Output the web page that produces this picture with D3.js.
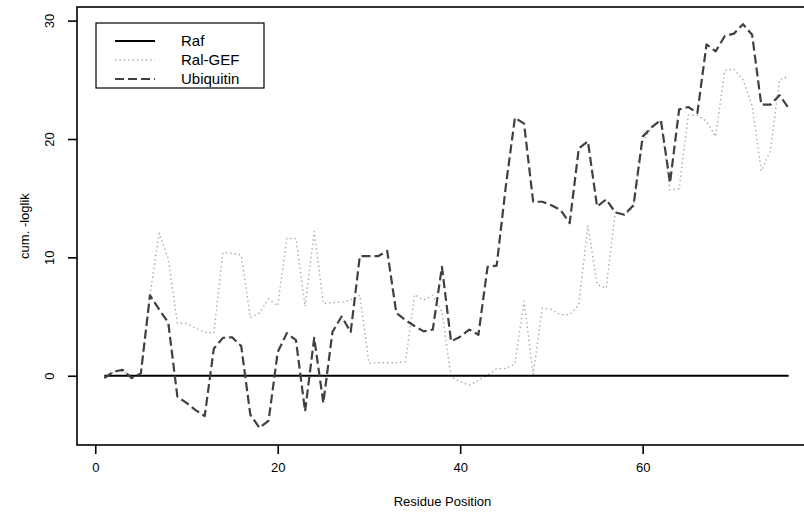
<!DOCTYPE html>
<html>
<head>
<meta charset="utf-8">
<script src="https://cdn.jsdelivr.net/npm/d3@7"></script>
<style>
  body { margin: 0; background: #fff; }
  svg { display: block; font-family: "Liberation Sans", Arial, sans-serif; }
</style>
</head>
<body>
<svg id="chart" width="804" height="514"></svg>
<script>
// ---- data ----
const positions = d3.range(1, 77);
const seriesNames = ["Raf", "Ral-GEF", "Ubiquitin"];
const raf = positions.map(() => 0);
const ralGEF = [
  -0.1, 0.3, 0.4, -0.1, 0.2, 6.8, 12.05, 9.9, 4.45, 4.4,
  4.0, 3.7, 3.6, 10.4, 10.35, 10.2, 4.9, 5.3, 6.5, 5.9,
  11.6, 11.6, 5.85, 12.2, 6.1, 6.2, 6.2, 6.4, 6.8, 1.07,
  1.1, 1.1, 1.1, 1.2, 6.85, 6.4, 6.8, 5.4, -0.1, -0.5,
  -0.8, -0.4, 0.05, 0.6, 0.6, 1.0, 6.3, 0.1, 5.7, 5.6,
  5.15, 5.15, 6.0, 12.7, 7.7, 7.4, 13.8, 13.6, 14.2, 19.8,
  21.0, 21.5, 15.7, 15.8, 22.0, 22.0, 21.5, 20.2, 25.8, 25.9,
  25.0, 22.8, 17.3, 19.0, 25.0, 25.3
];
const ubiquitin = [
  -0.2, 0.35, 0.5, -0.2, 0.2, 6.8, 5.6, 4.5, -1.75, -2.3,
  -2.9, -3.4, 2.3, 3.2, 3.25, 2.5, -3.3, -4.4, -3.8, 2.0,
  3.6, 3.0, -3.0, 3.2, -2.3, 3.7, 5.0, 3.7, 10.1, 10.1,
  10.1, 10.55, 5.3, 4.7, 4.2, 3.75, 3.9, 9.2, 2.9, 3.3,
  3.9, 3.46, 9.2, 9.3, 16.0, 21.8, 21.3, 14.7, 14.7, 14.4,
  14.0, 12.9, 19.2, 19.8, 14.3, 14.9, 13.8, 13.6, 14.4, 20.2,
  21.0, 21.6, 16.3, 22.5, 22.7, 22.2, 28.0, 27.4, 28.7, 28.9,
  29.7, 28.8, 22.9, 22.9, 23.7, 22.6
];
const xTicks = [0, 20, 40, 60];
const yTicks = [0, 10, 20, 30];
const xLabel = "Residue Position";
const yLabel = "cum. -loglik";

// ---- layout ----
const svg = d3.select("#chart");
const pL = 77, pR = 816, pT = 7, pB = 445;
const x = d3.scaleLinear().domain([-2, 79]).range([pL, pR]);
const y = d3.scaleLinear().domain([-5.85, 31.15]).range([pB, pT]);

const styles = [
  { color: "#000000", width: 2, dash: null },
  { color: "#a8a8a8", width: 1.4, dash: "1.4,3" },
  { color: "#404040", width: 2.2, dash: "9,4" }
];
const seriesData = [raf, ralGEF, ubiquitin];

const line = d3.line().x((d, i) => x(positions[i])).y(d => y(d));

const order = [1, 0, 2];
order.forEach(k => {
  svg.append("path")
    .datum(seriesData[k])
    .attr("fill", "none")
    .attr("stroke", styles[k].color)
    .attr("stroke-width", styles[k].width)
    .attr("stroke-dasharray", styles[k].dash)
    .attr("stroke-linejoin", "round")
    .attr("d", line);
});

// frame
svg.append("rect")
  .attr("x", pL).attr("y", pT)
  .attr("width", pR - pL).attr("height", pB - pT)
  .attr("fill", "none").attr("stroke", "#000").attr("stroke-width", 1.6);

// axes
const xAxis = d3.axisBottom(x).tickValues(xTicks).tickSize(9).tickPadding(9);
const gx = svg.append("g").attr("transform", `translate(0,${pB})`).call(xAxis);
gx.select(".domain").remove();
gx.selectAll("line").attr("stroke", "#000").attr("stroke-width", 1.6);
gx.selectAll("text").attr("font-size", 13).attr("fill", "#000")
  .attr("font-family", "'Liberation Sans', Arial, sans-serif");

const yAxis = d3.axisLeft(y).tickValues(yTicks).tickSize(9).tickFormat(d3.format("d"));
const gy = svg.append("g").attr("transform", `translate(${pL},0)`).call(yAxis);
gy.select(".domain").remove();
gy.selectAll("line").attr("stroke", "#000").attr("stroke-width", 1.6);
gy.selectAll("text").remove();
gy.selectAll(".tick").append("text")
  .attr("transform", "translate(-28,0) rotate(-90)")
  .attr("text-anchor", "middle")
  .attr("dy", "0.35em")
  .attr("font-size", 13).attr("fill", "#000")
  .attr("font-family", "'Liberation Sans', Arial, sans-serif")
  .text(d => d);

svg.append("text")
  .attr("x", (pL + pR) / 2 - 4).attr("y", 506)
  .attr("text-anchor", "middle").attr("font-size", 13).attr("fill", "#000")
  .text(xLabel);
svg.append("text")
  .attr("transform", `translate(29,${(pT + pB) / 2}) rotate(-90)`)
  .attr("text-anchor", "middle").attr("font-size", 13).attr("fill", "#000")
  .text(yLabel);

// legend
const lg = svg.append("g");
lg.append("rect").attr("x", 96).attr("y", 23).attr("width", 168).attr("height", 65)
  .attr("fill", "#fff").attr("stroke", "#000").attr("stroke-width", 1.2);
seriesNames.forEach((name, k) => {
  const yy = 41 + k * 19;
  lg.append("line").attr("x1", 115).attr("x2", 155).attr("y1", yy).attr("y2", yy)
    .attr("stroke", styles[k].color).attr("stroke-width", styles[k].width)
    .attr("stroke-dasharray", styles[k].dash);
  lg.append("text").attr("x", 181).attr("y", yy).attr("dy", "0.36em")
    .attr("font-size", 15).attr("fill", "#000").text(name);
});
</script>
</body>
</html>
